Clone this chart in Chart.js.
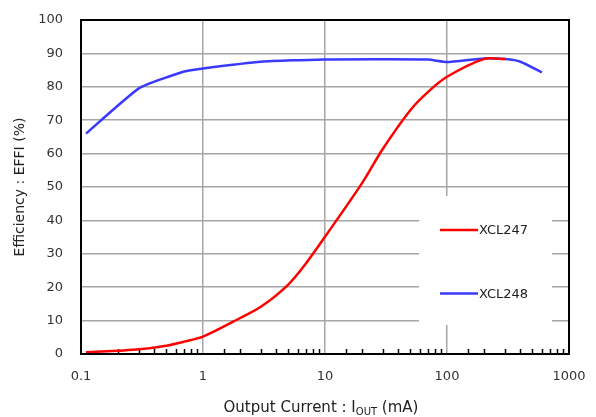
<!DOCTYPE html>
<html>
<head>
<meta charset="utf-8">
<script src="https://cdn.jsdelivr.net/npm/chart.js@4"></script>
<style>
  html, body { margin: 0; padding: 0; background: #fff; }
  #wrap { position: relative; width: 596px; height: 417px; }
  #xTitle {
    position: absolute; left: 0; width: 642px; top: 398px; text-align: center;
    font-family: "DejaVu Sans", sans-serif; font-size: 15px; color: #222;
  }
  #xTitle sub { font-size: 10px; vertical-align: -3px; }
</style>
</head>
<body>
<div id="wrap">
  <canvas id="effChart" width="596" height="417"></canvas>
  <div id="xTitle">Output Current : I<sub>OUT</sub> (mA)</div>
</div>
<script>
// values
const xcl247Current = [0.11, 0.2, 0.3, 0.5, 0.7, 1, 2, 3, 5, 7, 10, 20, 30, 50, 70, 100, 200, 300];
const xcl247Eff = [0.5, 1.0, 1.4, 2.5, 3.7, 5.2, 10.7, 14.2, 20.8, 27.2, 35.1, 51.0, 61.6, 73.0, 78.5, 83.0, 88.3, 88.3];

const xcl248Current = [0.11, 0.3, 0.7, 1, 3, 10, 70, 100, 200, 300, 400, 600];
const xcl248Eff = [66.0, 79.6, 84.6, 85.5, 87.5, 88.2, 88.2, 87.4, 88.5, 88.3, 87.5, 84.3];

const yTicks = [0, 10, 20, 30, 40, 50, 60, 70, 80, 90, 100];
const xMajor = [0.1, 1, 10, 100, 1000];

const FONT = '"DejaVu Sans", sans-serif';
const GRID = '#a6a6a6';

function isDecade(v) {
    const l = Math.log10(v);
    return Math.abs(l - Math.round(l)) < 1e-6;
}

function toPoints(xs, ys) {
    return xs.map((x, i) => ({ x: x, y: ys[i] }));
}

// white legend box, frame and inner minor ticks
const decorPlugin = {
    id: 'decor',
    beforeDatasetsDraw(chart) {
        const ctx = chart.ctx;
        const xs = chart.scales.x, a = chart.chartArea;
        // minor ticks pointing inward from the bottom axis
        ctx.save();
        ctx.strokeStyle = '#000';
        ctx.lineWidth = 1.5;
        xs.ticks.forEach(t => {
            if (isDecade(t.value)) return;
            const px = Math.round(xs.getPixelForValue(t.value)) + 0.5;
            ctx.beginPath();
            ctx.moveTo(px, a.bottom);
            ctx.lineTo(px, a.bottom - 5);
            ctx.stroke();
        });
        // legend background covers the grid
        ctx.fillStyle = '#fff';
        ctx.fillRect(419, 196, 133, 129);
        ctx.restore();
    },
    afterDatasetsDraw(chart) {
        const ctx = chart.ctx, a = chart.chartArea;
        ctx.save();
        ctx.strokeStyle = '#000';
        ctx.lineWidth = 2;
        ctx.strokeRect(a.left, a.top, a.right - a.left, a.bottom - a.top);
        // legend entries
        const rows = [230, 293.5];
        chart.data.datasets.forEach((ds, i) => {
            ctx.strokeStyle = ds.borderColor;
            ctx.lineWidth = 2.5;
            ctx.beginPath();
            ctx.moveTo(440, rows[i]);
            ctx.lineTo(478, rows[i]);
            ctx.stroke();
            ctx.fillStyle = '#222';
            ctx.font = '13px ' + FONT;
            ctx.textBaseline = 'middle';
            ctx.fillText(ds.label, 479, rows[i] + 1);
        });
        ctx.restore();
    }
};

const chart = new Chart(document.getElementById('effChart'), {
    type: 'line',
    data: {
        datasets: [{
            label: 'XCL247',
            data: toPoints(xcl247Current, xcl247Eff),
            borderColor: '#ff0000',
            borderWidth: 2.5,
            pointRadius: 0,
            tension: 0.3
        }, {
            label: 'XCL248',
            data: toPoints(xcl248Current, xcl248Eff),
            borderColor: '#3a3aff',
            borderWidth: 2.5,
            pointRadius: 0,
            tension: 0.15
        }]
    },
    options: {
        responsive: false,
        animation: false,
        layout: { padding: { top: 20, right: 27, left: 0, bottom: 0 } },
        plugins: {
            legend: { display: false },
            tooltip: { enabled: false }
        },
        scales: {
            x: {
                type: 'logarithmic',
                min: 0.1,
                max: 1000,
                afterFit(s) { s.height = 63; s.paddingLeft = 0; s.paddingRight = 0; },
                grid: {
                    color: c => (c.tick && isDecade(c.tick.value)) ? GRID : 'rgba(0,0,0,0)',
                    lineWidth: 1.5,
                    drawTicks: false
                },
                border: { display: false },
                ticks: {
                    autoSkip: false,
                    maxRotation: 0,
                    padding: 15,
                    color: '#333',
                    font: { family: FONT, size: 13 },
                    callback: v => xMajor.find(m => Math.abs(m - v) < 1e-9) !== undefined ? String(v) : ''
                }
            },
            y: {
                min: 0,
                max: 100,
                afterFit(s) { s.width = 81; s.paddingTop = 0; s.paddingBottom = 0; },
                afterBuildTicks(s) { s.ticks = yTicks.map(v => ({ value: v })); },
                grid: { color: GRID, lineWidth: 1.5, drawTicks: false },
                border: { display: false },
                ticks: {
                    padding: 18,
                    color: '#333',
                    font: { family: FONT, size: 13 }
                },
                title: {
                    display: true,
                    text: 'Efficiency : EFFI (%)',
                    color: '#222',
                    font: { family: FONT, size: 14 },
                    padding: { top: 12, bottom: 0 }
                }
            }
        }
    },
    plugins: [decorPlugin]
});
</script>
</body>
</html>
